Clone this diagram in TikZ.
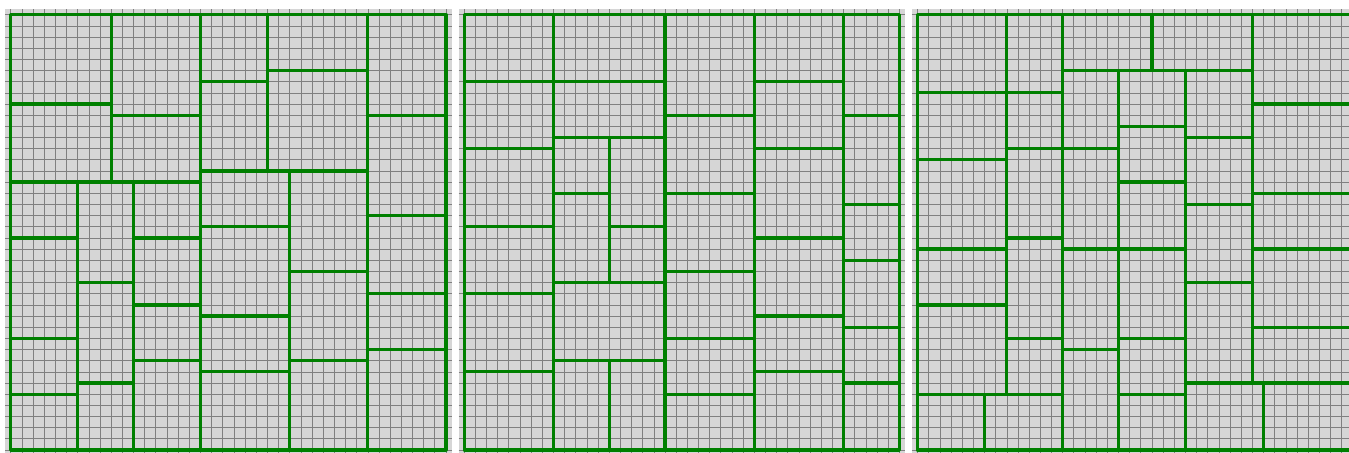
\documentclass[tikz,border=0pt]{standalone}
\usepackage{tikz}

\definecolor{tilegreen}{RGB}{0,128,0}
\definecolor{panelgray}{RGB}{214,214,214}
\definecolor{gridgray}{RGB}{128,128,128}

\begin{document}
\begin{tikzpicture}[x=0.3cm,y=-0.3cm,
  panel/.style={fill=panelgray,draw=none},
  gridline/.style={draw=gridgray,line width=0.5pt},
  tile/.style={draw=tilegreen,line width=2.5pt,line join=round}]
\useasboundingbox (0,0) rectangle (120.88,40.59);
\clip (0,0) rectangle (120.88,40.59);

% left solution
\begin{scope}[shift={(0.96,1.32)}]
\fill[panel] (-0.5,-0.5) rectangle (39.5,39.5);
\foreach \k in {0,...,39} {
  \draw[gridline] (\k,-0.5) -- (\k,39.5);
  \draw[gridline] (-0.5,\k) -- (39.5,\k);
}
\draw[tile] (0,0) rectangle (9,8);
\draw[tile] (0,8) rectangle (9,15);
\draw[tile] (9,0) rectangle (17,9);
\draw[tile] (9,9) rectangle (17,15);
\draw[tile] (17,0) rectangle (23,6);
\draw[tile] (17,6) rectangle (23,14);
\draw[tile] (23,0) rectangle (32,5);
\draw[tile] (23,5) rectangle (32,14);
\draw[tile] (32,0) rectangle (39,9);
\draw[tile] (32,9) rectangle (39,18);
\draw[tile] (32,18) rectangle (39,25);
\draw[tile] (32,25) rectangle (39,30);
\draw[tile] (32,30) rectangle (39,39);
\draw[tile] (0,15) rectangle (6,20);
\draw[tile] (0,20) rectangle (6,29);
\draw[tile] (0,29) rectangle (6,34);
\draw[tile] (0,34) rectangle (6,39);
\draw[tile] (6,15) rectangle (11,24);
\draw[tile] (6,24) rectangle (11,33);
\draw[tile] (6,33) rectangle (11,39);
\draw[tile] (11,15) rectangle (17,20);
\draw[tile] (11,20) rectangle (17,26);
\draw[tile] (11,26) rectangle (17,31);
\draw[tile] (11,31) rectangle (17,39);
\draw[tile] (17,14) rectangle (25,19);
\draw[tile] (17,19) rectangle (25,27);
\draw[tile] (17,27) rectangle (25,32);
\draw[tile] (17,32) rectangle (25,39);
\draw[tile] (25,14) rectangle (32,23);
\draw[tile] (25,23) rectangle (32,31);
\draw[tile] (25,31) rectangle (32,39);
\end{scope}

% middle solution
\begin{scope}[shift={(41.59,1.32)}]
\fill[panel] (-0.5,-0.5) rectangle (39.5,39.5);
\foreach \k in {0,...,39} {
  \draw[gridline] (\k,-0.5) -- (\k,39.5);
  \draw[gridline] (-0.5,\k) -- (39.5,\k);
}
\draw[tile] (0,0) rectangle (8,6);
\draw[tile] (0,6) rectangle (8,12);
\draw[tile] (0,12) rectangle (8,19);
\draw[tile] (0,19) rectangle (8,25);
\draw[tile] (0,25) rectangle (8,32);
\draw[tile] (0,32) rectangle (8,39);
\draw[tile] (8,0) rectangle (18,6);
\draw[tile] (8,6) rectangle (18,11);
\draw[tile] (8,11) rectangle (13,16);
\draw[tile] (8,16) rectangle (13,24);
\draw[tile] (13,11) rectangle (18,19);
\draw[tile] (13,19) rectangle (18,24);
\draw[tile] (8,24) rectangle (18,31);
\draw[tile] (8,31) rectangle (13,39);
\draw[tile] (13,31) rectangle (18,39);
\draw[tile] (18,0) rectangle (26,9);
\draw[tile] (18,9) rectangle (26,16);
\draw[tile] (18,16) rectangle (26,23);
\draw[tile] (18,23) rectangle (26,29);
\draw[tile] (18,29) rectangle (26,34);
\draw[tile] (18,34) rectangle (26,39);
\draw[tile] (26,0) rectangle (34,6);
\draw[tile] (26,6) rectangle (34,12);
\draw[tile] (26,12) rectangle (34,20);
\draw[tile] (26,20) rectangle (34,27);
\draw[tile] (26,27) rectangle (34,32);
\draw[tile] (26,32) rectangle (34,39);
\draw[tile] (34,0) rectangle (39,9);
\draw[tile] (34,9) rectangle (39,17);
\draw[tile] (34,17) rectangle (39,22);
\draw[tile] (34,22) rectangle (39,28);
\draw[tile] (34,28) rectangle (39,33);
\draw[tile] (34,33) rectangle (39,39);
\end{scope}

% right solution
\begin{scope}[shift={(82.22,1.32)}]
\fill[panel] (-0.5,-0.5) rectangle (39.5,39.5);
\foreach \k in {0,...,39} {
  \draw[gridline] (\k,-0.5) -- (\k,39.5);
  \draw[gridline] (-0.5,\k) -- (39.5,\k);
}
\draw[tile] (0,0) rectangle (8,7);
\draw[tile] (0,7) rectangle (8,13);
\draw[tile] (0,13) rectangle (8,21);
\draw[tile] (0,21) rectangle (8,26);
\draw[tile] (0,26) rectangle (8,34);
\draw[tile] (8,0) rectangle (13,7);
\draw[tile] (8,7) rectangle (13,12);
\draw[tile] (8,12) rectangle (13,20);
\draw[tile] (8,20) rectangle (13,29);
\draw[tile] (8,29) rectangle (13,34);
\draw[tile] (0,34) rectangle (6,39);
\draw[tile] (6,34) rectangle (13,39);
\draw[tile] (13,0) rectangle (21,5);
\draw[tile] (21,0) rectangle (30,5);
\draw[tile] (13,5) rectangle (18,12);
\draw[tile] (13,12) rectangle (18,21);
\draw[tile] (13,21) rectangle (18,30);
\draw[tile] (13,30) rectangle (18,39);
\draw[tile] (18,5) rectangle (24,10);
\draw[tile] (18,10) rectangle (24,15);
\draw[tile] (18,15) rectangle (24,21);
\draw[tile] (18,21) rectangle (24,29);
\draw[tile] (18,29) rectangle (24,34);
\draw[tile] (18,34) rectangle (24,39);
\draw[tile] (24,5) rectangle (30,11);
\draw[tile] (24,11) rectangle (30,17);
\draw[tile] (24,17) rectangle (30,24);
\draw[tile] (24,24) rectangle (30,33);
\draw[tile] (30,0) rectangle (39,8);
\draw[tile] (30,8) rectangle (39,16);
\draw[tile] (30,16) rectangle (39,21);
\draw[tile] (30,21) rectangle (39,28);
\draw[tile] (30,28) rectangle (39,33);
\draw[tile] (24,33) rectangle (31,39);
\draw[tile] (31,33) rectangle (39,39);
\end{scope}

\end{tikzpicture}
\end{document}
